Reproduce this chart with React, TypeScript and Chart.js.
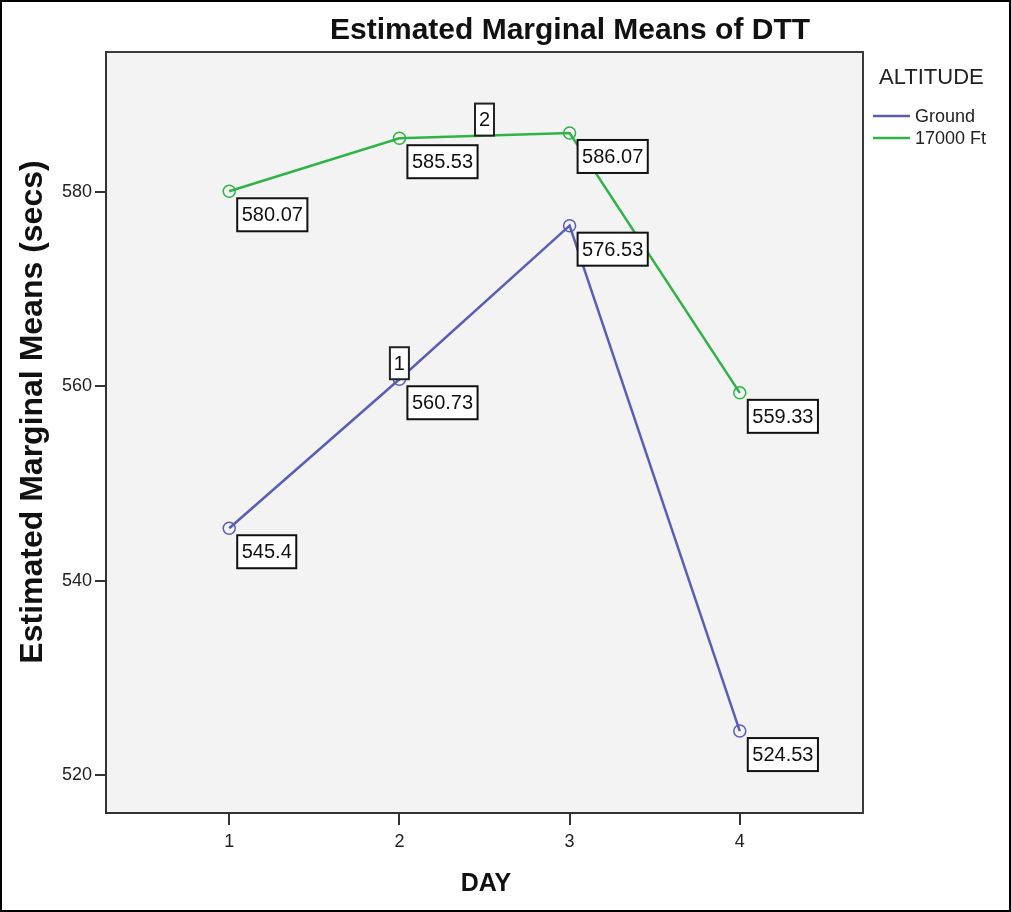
import React, { useEffect, useRef } from 'react';
import { Chart, registerables } from 'chart.js';

Chart.register(...registerables);

const chartTitle = 'Estimated Marginal Means of DTT';
const xAxisTitle = 'DAY';
const yAxisTitle = 'Estimated Marginal Means (secs)';
const legendTitle = 'ALTITUDE';
const days = [1, 2, 3, 4];
const seriesNames = ['Ground', '17000 Ft'];
const groundMeans = [545.4, 560.73, 576.53, 524.53];
const ft17000Means = [580.07, 585.53, 586.07, 559.33];
const groundLabels = ['545.4', '560.73', '576.53', '524.53'];
const ft17000Labels = ['580.07', '585.53', '586.07', '559.33'];
const yTicks = [520, 540, 560, 580];
const markerLabels = ['1', '2'];
const markerDays = [2, 2.5];
const markerValues = [560.73, 585.8];

const FONT = '"Liberation Sans", Arial, sans-serif';
const GROUND_COLOR = '#5a5db8';
const FT_COLOR = '#2fb347';
const labelSets = [groundLabels, ft17000Labels];

const overlay = {
  id: 'spssOverlay',
  beforeDraw(chart: any) {
    const { ctx, chartArea: a } = chart;
    ctx.save();
    ctx.fillStyle = '#ffffff';
    ctx.fillRect(0, 0, chart.width, chart.height);
    ctx.fillStyle = '#f3f3f3';
    ctx.fillRect(a.left, a.top, a.right - a.left, a.bottom - a.top);
    ctx.restore();
  },
  afterDraw(chart: any) {
    const { ctx, chartArea: a } = chart;
    ctx.save();
    // frame top/right
    ctx.strokeStyle = '#3a3a3a';
    ctx.lineWidth = 2;
    ctx.beginPath();
    ctx.moveTo(a.left, a.top);
    ctx.lineTo(a.right, a.top);
    ctx.lineTo(a.right, a.bottom);
    ctx.stroke();

    // value label boxes
    ctx.font = `20px ${FONT}`;
    ctx.textBaseline = 'middle';
    ctx.textAlign = 'left';
    chart.data.datasets.forEach((ds: any, di: number) => {
      const meta = chart.getDatasetMeta(di);
      meta.data.forEach((pt: any, i: number) => {
        const text = labelSets[di][i];
        const w = ctx.measureText(text).width + 9;
        const h = 33;
        const bx = pt.x + 8;
        const by = pt.y + 7;
        ctx.fillStyle = '#ffffff';
        ctx.fillRect(bx, by, w, h);
        ctx.strokeStyle = '#111';
        ctx.lineWidth = 2;
        ctx.strokeRect(bx, by, w, h);
        ctx.fillStyle = '#111';
        ctx.fillText(text, bx + 4.5, by + h / 2 + 1);
      });
    });

    // footnote markers
    const xs = chart.scales.x;
    const ys = chart.scales.y;
    markerLabels.forEach((m, i) => {
      const px = xs.getPixelForValue(markerDays[i]);
      const py = ys.getPixelForValue(markerValues[i]);
      const w = 19;
      const h = 32;
      ctx.fillStyle = '#ffffff';
      ctx.fillRect(px - w / 2, py - h, w, h);
      ctx.strokeStyle = '#222';
      ctx.lineWidth = 2;
      ctx.strokeRect(px - w / 2, py - h, w, h);
      ctx.fillStyle = '#111';
      ctx.textAlign = 'center';
      ctx.fillText(m, px, py - h / 2 + 1);
    });

    // title
    ctx.fillStyle = '#111';
    ctx.textAlign = 'center';
    ctx.font = `bold 30px ${FONT}`;
    ctx.fillText(chartTitle, 570, 31);

    // x axis title
    ctx.font = `bold 25px ${FONT}`;
    ctx.fillText(xAxisTitle, 486, 884);

    // y axis title
    ctx.save();
    ctx.translate(33, 412);
    ctx.rotate(-Math.PI / 2);
    ctx.font = `bold 32px ${FONT}`;
    ctx.fillText(yAxisTitle, 0, 0);
    ctx.restore();

    // legend
    ctx.textAlign = 'left';
    ctx.font = `22px ${FONT}`;
    ctx.fillStyle = '#222';
    ctx.fillText(legendTitle, 879, 78);
    const colors = [GROUND_COLOR, FT_COLOR];
    seriesNames.forEach((name, i) => {
      const y = 116 + i * 22;
      ctx.strokeStyle = colors[i];
      ctx.lineWidth = 2.5;
      ctx.beginPath();
      ctx.moveTo(873, y);
      ctx.lineTo(910, y);
      ctx.stroke();
      ctx.font = `18px ${FONT}`;
      ctx.fillStyle = '#222';
      ctx.fillText(name, 915, y + 1);
    });

    // outer border
    ctx.strokeStyle = '#000';
    ctx.lineWidth = 2;
    ctx.strokeRect(1, 1, chart.width - 2, chart.height - 2);
    ctx.restore();
  },
};

export default function App() {
  const ref = useRef<HTMLCanvasElement | null>(null);
  useEffect(() => {
    if (!ref.current) return;
    const chart = new Chart(ref.current, {
      type: 'line',
      data: {
        datasets: [
          {
            label: seriesNames[0],
            data: days.map((d, i) => ({ x: d, y: groundMeans[i] })),
            borderColor: GROUND_COLOR,
            borderWidth: 2.5,
            pointRadius: 6,
            pointBorderColor: GROUND_COLOR,
            pointBackgroundColor: 'rgba(0,0,0,0)',
            pointBorderWidth: 1.5,
            tension: 0,
          },
          {
            label: seriesNames[1],
            data: days.map((d, i) => ({ x: d, y: ft17000Means[i] })),
            borderColor: FT_COLOR,
            borderWidth: 2.5,
            pointRadius: 6,
            pointBorderColor: FT_COLOR,
            pointBackgroundColor: 'rgba(0,0,0,0)',
            pointBorderWidth: 1.5,
            tension: 0,
          },
        ],
      },
      options: {
        responsive: false,
        animation: false,
        layout: { padding: { top: 52, right: 148, left: 0, bottom: 0 } },
        plugins: { legend: { display: false }, tooltip: { enabled: false }, title: { display: false } },
        scales: {
          x: {
            type: 'linear',
            min: 0.276,
            max: 4.724,
            afterBuildTicks: (s: any) => {
              s.ticks = days.map((v) => ({ value: v }));
            },
            afterFit: (s: any) => {
              s.height = 99;
            },
            ticks: {
              font: { family: FONT, size: 18 },
              color: '#222',
              padding: 6,
              callback: (v: any) => String(v),
            },
            grid: { drawOnChartArea: false, drawTicks: true, tickLength: 12, color: '#333', lineWidth: 2 },
            border: { display: true, color: '#333', width: 2 },
          },
          y: {
            type: 'linear',
            min: 516.1,
            max: 594.4,
            afterBuildTicks: (s: any) => {
              s.ticks = yTicks.map((v) => ({ value: v }));
            },
            afterFit: (s: any) => {
              s.width = 106;
            },
            ticks: {
              font: { family: FONT, size: 18 },
              color: '#222',
              padding: 3,
              callback: (v: any) => String(v),
            },
            grid: { drawOnChartArea: false, drawTicks: true, tickLength: 11, color: '#333', lineWidth: 2 },
            border: { display: true, color: '#333', width: 2 },
          },
        },
      },
      plugins: [overlay],
    });
    return () => chart.destroy();
  }, []);
  return (
    <div style={{ position: 'absolute', left: 0, top: 0, width: 1011, height: 912 }}>
      <canvas ref={ref} width={1011} height={912} style={{ width: 1011, height: 912 }} />
    </div>
  );
}
